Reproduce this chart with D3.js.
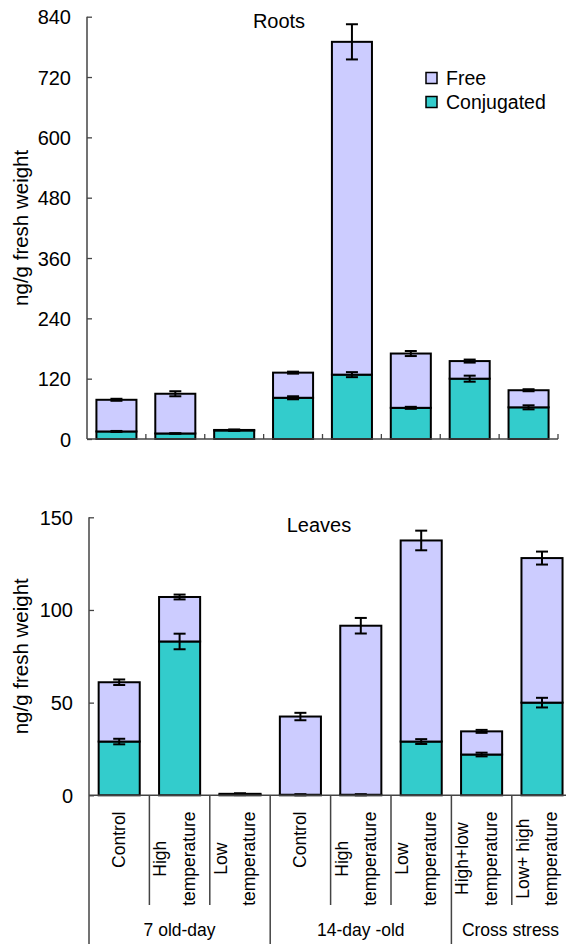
<!DOCTYPE html>
<html><head><meta charset="utf-8">
<script src="https://cdn.jsdelivr.net/npm/d3@7"></script>
<style>body{margin:0;background:#fff}text{font-family:"Liberation Sans",Arial,sans-serif;fill:#000}</style>
</head><body>
<svg id="c" width="566" height="944"></svg>
<script>
const categories = ["Control","High temperature","Low temperature","Control","High temperature","Low temperature","High+low temperature","Low+ high temperature"];
const categoryLines = [["Control"],["High","temperature"],["Low","temperature"],["Control"],["High","temperature"],["Low","temperature"],["High+low","temperature"],["Low+ high","temperature"]];
const groups = ["7 old-day","14-day -old","Cross stress"];
const seriesNames = ["Free","Conjugated"];

const rootsConj = [15, 11, 17, 82, 128, 62, 120, 63];
const rootsFree = [63, 79, 1, 50, 662, 108, 35, 34];
const rootsConjErr = [1, 0.5, 0.5, 3, 5, 2, 6, 4];
const rootsFreeErr = [2, 5, 1, 2, 35, 5, 3, 2];
const rootsTicks = [0,120,240,360,480,600,720,840];

const leavesConj = [29, 83, 0.3, 0.3, 0.3, 29, 22, 50];
const leavesFree = [32, 24, 0.5, 42.2, 91.2, 108.5, 12.5, 78];
const leavesConjErr = [1.5, 4.2, 0.2, 0.3, 0.3, 1.3, 1, 2.6];
const leavesFreeErr = [1.5, 1.3, 0.3, 2, 4.2, 5.3, 0.8, 3.5];
const leavesTicks = [0,50,100,150];

const colFree = "#CCCCFF", colConj = "#33CCCC";
const svg = d3.select("#c");

function panel(o){
  const x = d3.scaleBand().domain(d3.range(8)).range([o.x0,o.x1]).padding(0);
  const y = d3.scaleLinear().domain([0,o.max]).range([o.y0,o.y1]);
  const g = svg.append("g");
  const bw = x.bandwidth()*0.68;
  const bx = i => x(i)+ (x.bandwidth()-bw)/2;
  // bars
  o.conj.forEach((c,i)=>{
    const f = o.free[i];
    g.append("rect").attr("x",bx(i)).attr("y",y(c)).attr("width",bw).attr("height",y(0)-y(c))
      .attr("fill",colConj).attr("stroke","#000").attr("stroke-width",2);
    g.append("rect").attr("x",bx(i)).attr("y",y(c+f)).attr("width",bw).attr("height",y(c)-y(c+f))
      .attr("fill",colFree).attr("stroke","#000").attr("stroke-width",2);
  });
  // error bars
  const eb = (cx,v,e)=>{
    const cw = 6;
    g.append("line").attr("x1",cx).attr("x2",cx).attr("y1",y(v+e)).attr("y2",y(v-e)).attr("stroke","#000").attr("stroke-width",2);
    [v+e,v-e].forEach(t=>g.append("line").attr("x1",cx-cw).attr("x2",cx+cw).attr("y1",y(t)).attr("y2",y(t)).attr("stroke","#000").attr("stroke-width",2));
  };
  o.conj.forEach((c,i)=>{
    const cx = x(i)+x.bandwidth()/2;
    eb(cx,c,o.conjErr[i]);
    eb(cx,c+o.free[i],o.freeErr[i]);
  });
  // y axis
  const ya = d3.axisLeft(y).tickValues(o.ticks).tickSize(-5).tickPadding(16).tickFormat(d3.format("d"));
  const yg = g.append("g").attr("transform",`translate(${o.x0},0)`).call(ya);
  yg.select(".domain").remove();
  yg.selectAll(".tick line").attr("stroke","#444").attr("stroke-width",1.3);
  yg.selectAll(".tick text").style("font-size","20px").attr("dy","0.35em").style("font-family","Liberation Sans, Arial, sans-serif");
  g.append("line").attr("x1",o.x0).attr("x2",o.x0).attr("y1",o.y1).attr("y2",o.axisBottom).attr("stroke","#444").attr("stroke-width",1.5);
  // x axis line
  g.append("line").attr("x1",o.x0).attr("x2",o.x1).attr("y1",o.y0).attr("y2",o.y0).attr("stroke","#444").attr("stroke-width",1.5);
  // y title
  g.append("text").attr("transform",`translate(28,${(o.y0+o.y1)/2}) rotate(-90)`).attr("text-anchor","middle")
    .style("font-size","20.5px").text("ng/g fresh weight");
  // panel title
  g.append("text").attr("x",o.titleX).attr("y",o.titleY).attr("text-anchor","middle").style("font-size","20px").text(o.title);
  return {x,y,g};
}

const roots = panel({x0:87,x1:558,y0:439,y1:16.7,max:840,conj:rootsConj,free:rootsFree,conjErr:rootsConjErr,freeErr:rootsFreeErr,
  ticks:rootsTicks,title:"Roots",titleX:279,titleY:28,axisBottom:439});
// roots category ticks (inside, upward)
d3.range(1,9).forEach(i=>{
  const xx = roots.x(i-1)+roots.x.bandwidth();
  roots.g.append("line").attr("x1",xx).attr("x2",xx).attr("y1",439).attr("y2",434).attr("stroke","#444").attr("stroke-width",1.3);
});
// legend
const leg = svg.append("g");
seriesNames.forEach((s,i)=>{
  const yy = 78 + i*24;
  leg.append("rect").attr("x",426).attr("y",yy-5.5).attr("width",11).attr("height",11)
    .attr("fill",i===0?colFree:colConj).attr("stroke","#000").attr("stroke-width",1.5);
  leg.append("text").attr("x",446).attr("y",yy+6.5).style("font-size","19.5px").text(s);
});

const leaves = panel({x0:89,x1:572.2,y0:795.3,y1:517.3,max:150,conj:leavesConj,free:leavesFree,conjErr:leavesConjErr,freeErr:leavesFreeErr,
  ticks:leavesTicks,title:"Leaves",titleX:319,titleY:532,axisBottom:944});
// separators and labels
d3.range(1,9).forEach(i=>{
  const xx = leaves.x(i-1)+leaves.x.bandwidth();
  const isGroup = (i%3===0);
  leaves.g.append("line").attr("x1",xx).attr("x2",xx).attr("y1",795.3).attr("y2",isGroup?944:905).attr("stroke","#444").attr("stroke-width",1.5);
});
categoryLines.forEach((lines,i)=>{
  const cx = leaves.x(i)+leaves.x.bandwidth()/2;
  const offs = lines.length===1 ? [5.5] : [-13.3,15.2];
  const tmp = lines.map((l,j)=>leaves.g.append("text").attr("text-anchor","middle").style("font-size","17.5px").text(l));
  const maxLen = d3.max(tmp,t=>t.node().getComputedTextLength());
  const yc = 811.5 + maxLen/2;
  tmp.forEach((t,j)=>t.attr("transform",`translate(${cx+offs[j]},${yc}) rotate(-90)`));
});
groups.forEach((gname,k)=>{
  const a = leaves.x(k*3), b = k===2 ? 566+2 : leaves.x(k*3+2)+leaves.x.bandwidth();
  const c = k===2 ? 510.5 : (a+b)/2;
  leaves.g.append("text").attr("x",c).attr("y",936).attr("text-anchor","middle").style("font-size","17.5px").text(gname);
});
</script>
</body></html>
